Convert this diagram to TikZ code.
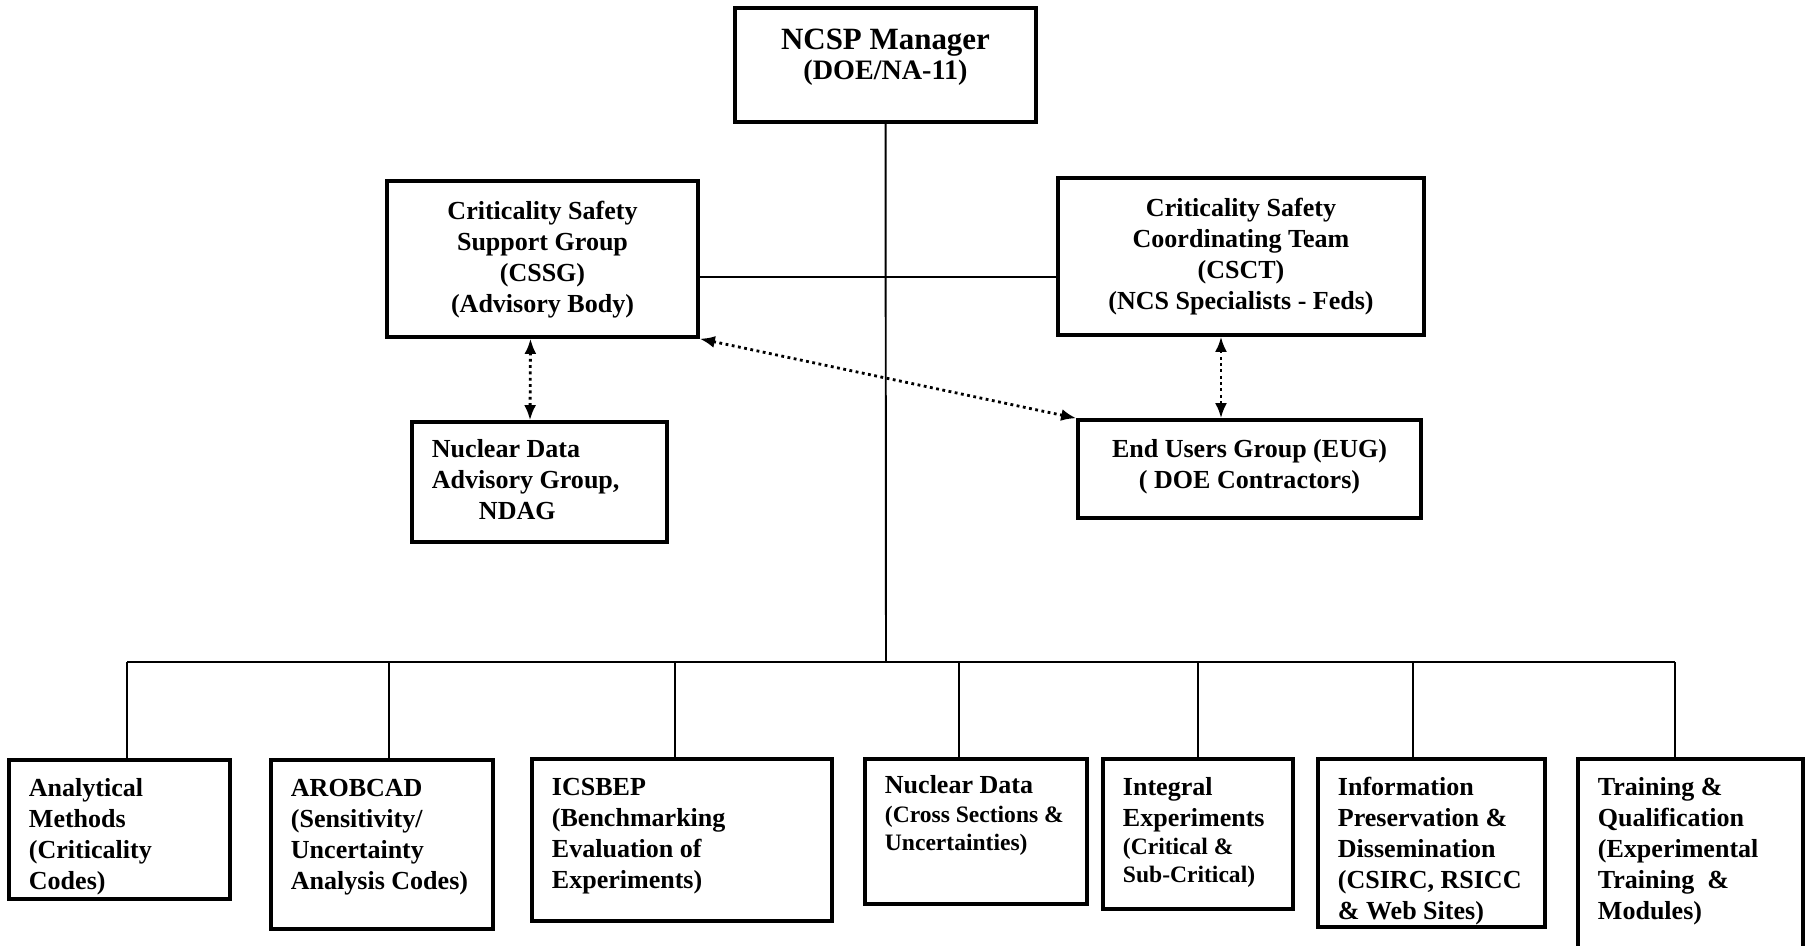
\documentclass[tikz,border=0pt]{standalone}
\usepackage{fontspec}
\setmainfont{Liberation Serif}
\usetikzlibrary{arrows.meta,calc,fit}

\tikzset{
  frame/.style={draw, line width=1pt, inner sep=0pt},
  txt/.style={font=\bfseries\fontsize{7.4}{8.8}\selectfont, inner sep=0pt},
  wire/.style={line width=0.55pt},
  link/.style={densely dotted, line width=0.8pt, {Latex[length=4.3pt,width=3.4pt]}-{Latex[length=4.3pt,width=3.4pt]}}
}
\newcommand{\sm}{\fontsize{6.7}{8.4}\selectfont}

\begin{document}
\begin{tikzpicture}[x=0.01cm, y=-0.01cm]
  \useasboundingbox (0,0) rectangle (1805,946);
  \clip (0,0) rectangle (1805,946);

  % boxes
  \node[frame, fit={(735,8) (1036,122)}] (ncsp) {};
  \node[frame, fit={(387,181) (698,337)}] (cssg) {};
  \node[frame, fit={(1058,178) (1424,335)}] (csct) {};
  \node[frame, fit={(412,422) (667,542)}] (ndag) {};
  \node[frame, fit={(1078,420) (1421,518)}] (eug) {};

  \node[frame, fit={(9,760) (230,899)}] (anm) {};
  \node[frame, fit={(271,760) (493,929)}] (arob) {};
  \node[frame, fit={(532,759) (832,921)}] (icsbep) {};
  \node[frame, fit={(865,759) (1087,904)}] (nd) {};
  \node[frame, fit={(1103,759) (1293,909)}] (ie) {};
  \node[frame, fit={(1318,759) (1545,927)}] (ipd) {};
  \node[frame, fit={(1578,759) (1803,960)}] (tq) {};

  % texts (base = baseline of the last line)
  \node[txt, anchor=base, align=center] (ncsp-t) at ($(ncsp.north)+(0,73)$)
    {{\fontsize{8.8}{8}\selectfont NCSP Manager}\\[-0.3pt]{\fontsize{8}{8}\selectfont (DOE/NA-11)}};
  \node[txt, anchor=base, align=center] (cssg-t) at ($(cssg.north)+(0,133)$)
    {Criticality Safety\\Support Group\\(CSSG)\\(Advisory Body)};
  \node[txt, anchor=base, align=center] (csct-t) at ($(csct.north)+(0,133)$)
    {Criticality Safety\\Coordinating Team\\(CSCT)\\(NCS Specialists - Feds)};
  \node[txt, anchor=base west, align=left] (ndag-t) at ($(ndag.north west)+(21,99)$)
    {Nuclear Data\\Advisory Group,\\\hspace*{0.47cm}NDAG};
  \node[txt, anchor=base, align=center] (eug-t) at ($(eug.north)+(0,70)$)
    {End Users Group (EUG)\\( DOE Contractors)};

  \node[txt, anchor=base west, align=left] (anm-t) at ($(anm.north west)+(21,131)$)
    {Analytical\\Methods\\(Criticality\\Codes)};
  \node[txt, anchor=base west, align=left] (arob-t) at ($(arob.north west)+(21,131)$)
    {AROBCAD\\(Sensitivity/\\Uncertainty\\Analysis Codes)};
  \node[txt, anchor=base west, align=left] (icsbep-t) at ($(icsbep.north west)+(21,131)$)
    {ICSBEP\\(Benchmarking\\Evaluation of\\Experiments)};
  \node[txt, anchor=base west, align=left] (nd-t) at ($(nd.north west)+(21,93)$)
    {Nuclear Data\\[-0.6pt]\sm(Cross Sections \&\\[-0.9pt]\sm Uncertainties)};
  \node[txt, anchor=base west, align=left] (ie-t) at ($(ie.north west)+(21,125)$)
    {Integral\\Experiments\\[-0.8pt]\sm(Critical \&\\[-0.9pt]\sm Sub-Critical)};
  \node[txt, anchor=base west, align=left] (ipd-t) at ($(ipd.north west)+(21,162)$)
    {Information\\Preservation \&\\Dissemination\\(CSIRC, RSICC\\\& Web Sites)};
  \node[txt, anchor=base west, align=left] (tq-t) at ($(tq.north west)+(21,162)$)
    {Training \&\\Qualification\\(Experimental\\Training\ \ \&\\Modules)};

  % lines
  \coordinate (bus) at (886,662);
  \coordinate (link) at (886,277);
  \draw[wire] (ncsp) -- (bus);
  \draw[wire] (link -| cssg.east) -- (link -| csct.west);
  \foreach \b/\x in {anm/127, arob/389, icsbep/675, nd/959, ie/1198, ipd/1413, tq/1675} {
    \coordinate (\b-top) at (\x,662);
    \draw[wire] (\b-top) -- (\b-top |- \b.north);
  }
  \draw[wire] (anm-top) -- (tq-top);

  % dotted links
  \draw[link] ($(cssg.south)+(-12,0)$) -- ($(ndag.north)+(-9.5,0)$);
  \draw[link] ($(csct.south)+(-20,0)$) -- ($(eug.north)+(-28.5,0)$);
  \draw[link] (cssg.south east) -- (eug.north west);
\end{tikzpicture}
\end{document}
